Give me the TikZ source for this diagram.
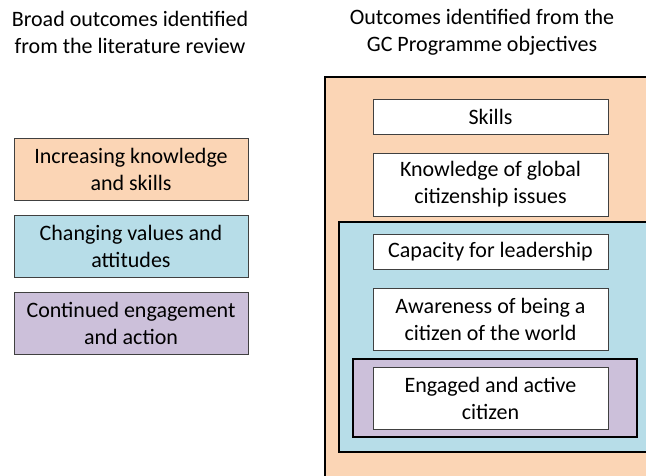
\documentclass[tikz,border=0pt]{standalone}
\usepackage{fontspec}
\setmainfont{Carlito}
\definecolor{peach}{HTML}{FBD5B5}
\definecolor{lightblue}{HTML}{B7DDE8}
\definecolor{lilac}{HTML}{CCC0DA}
\definecolor{edgegray}{HTML}{404040}
\begin{document}
\begin{tikzpicture}[x=1pt, y=-1pt,
  every node/.style={font=\fontsize{22}{27}\selectfont, align=center},
  litbox/.style={draw=edgegray, line width=0.8pt, minimum width=234pt, minimum height=62pt, inner sep=0pt},
  gcbox/.style={draw=edgegray, fill=white, line width=0.8pt, minimum width=235pt, inner sep=0pt},
  frame/.style={draw=black, line width=1.6pt}]
\clip (0,0) rectangle (646,475);
\node (titlelit) at (130,32) {Broad outcomes identified\\from the literature review};
\node (titlegc) at (482,32) {Outcomes identified from the\\GC Programme objectives};
\node[litbox, fill=peach] (knowskills) at (131,169) {Increasing knowledge\\and skills};
\node[litbox, fill=lightblue] (values) at (131,246) {Changing values and\\attitudes};
\node[litbox, fill=lilac] (engage) at (131,323) {Continued engagement\\and action};
\draw[frame, fill=peach] (325,77) rectangle (680,500);
\draw[frame, fill=lightblue] (339,222) rectangle (680,452);
\draw[frame, fill=lilac] (353,359) rectangle (637,437);
\node[gcbox, minimum height=35pt] (skills) at (490.5,116.5) {Skills};
\node[gcbox, minimum height=63pt] (knowledge) at (490.5,184.5) {Knowledge of global\\citizenship issues};
\node[gcbox, minimum height=35pt] (leadership) at (490.5,251.5) {Capacity for leadership};
\node[gcbox, minimum height=62pt] (awareness) at (490.5,319) {Awareness of being a\\citizen of the world};
\node[gcbox, minimum height=62pt] (active) at (490.5,398) {Engaged and active\\citizen};
\end{tikzpicture}
\end{document}
